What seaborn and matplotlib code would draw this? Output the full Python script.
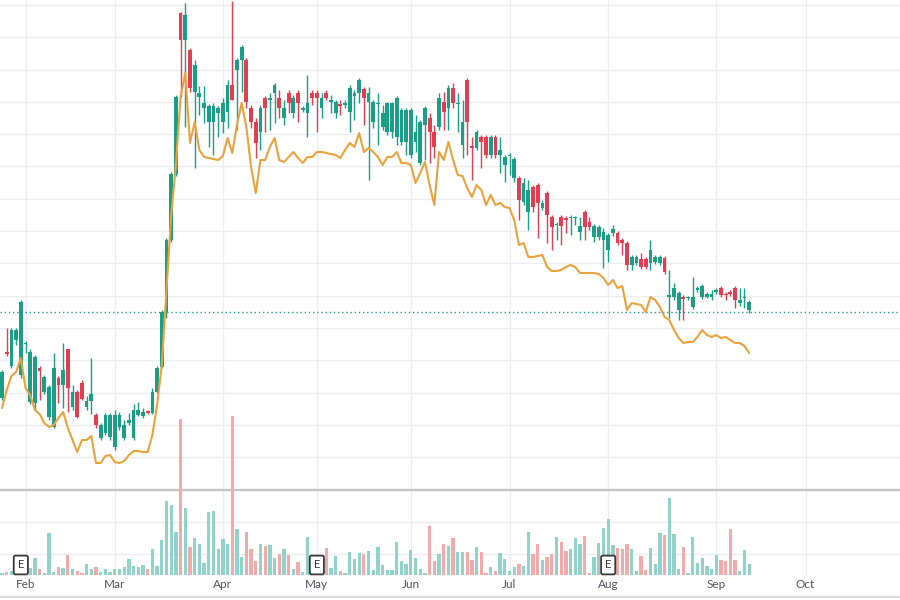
import numpy as np
import matplotlib
matplotlib.use("Agg")
import matplotlib.pyplot as plt
import seaborn as sns

# daily bars (price units are arbitrary, scale not shown)
open_ = [10.2, 14.8, 13.4, 16.0, 12.5, 15.6, 9.8, 9.7, 13.2, 10.8,
         8.3, 7.3, 12.2, 11.5, 15.1, 9.3, 10.8, 11.7, 9.3, 9.9,
         8.5, 6.2, 6.7, 6.3, 5.3, 7.3, 6.2, 7.7, 6.2, 8.5,
         8.4, 8.9, 8.7, 10.8, 13.3, 18.8, 26.0, 32.6, 48.7, 46.0,
         45.0, 40.8, 40.3, 39.2, 37.8, 37.8, 38.7, 37.8, 38.8, 41.5,
         43.0, 44.0, 44.0, 39.2, 37.8, 36.8, 40.2, 40.0, 40.7, 40.2,
         38.2, 40.7, 38.7, 40.7, 39.0, 38.7, 40.7, 40.7, 39.2, 40.7,
         39.8, 38.7, 39.6, 39.5, 38.8, 40.4, 40.7, 41.1, 39.8, 37.8,
         39.6, 37.3, 36.8, 36.8, 36.3, 35.8, 35.8, 34.5, 35.8, 33.7,
         37.5, 38.2, 36.8, 37.3, 39.8, 39.2, 41.2, 39.6, 35.5, 42.0,
         35.4, 35.2, 36.3, 36.3, 34.5, 36.3, 34.5, 33.5, 34.4, 32.2,
         32.2, 29.8, 28.8, 31.3, 31.5, 29.2, 30.7, 28.3, 27.5, 28.3,
         28.2, 28.2, 28.2, 26.8, 28.8, 27.8, 26.3, 26.3, 26.0, 25.0,
         26.7, 26.7, 26.0, 25.7, 23.5, 23.7, 24.1, 24.1, 23.7, 23.8,
         23.7, 24.2, 20.3, 20.3, 19.0, 20.3, 20.2, 19.3, 21.0, 20.3,
         20.3, 20.3, 20.8, 21.2, 20.6, 20.8, 21.2, 19.7, 20.2, 19.0]
close = [12.8, 14.6, 17.0, 17.0, 19.8, 15.7, 14.8, 14.3, 12.9, 12.3,
         11.3, 13.2, 11.5, 13.0, 11.2, 10.8, 8.3, 10.1, 9.9, 10.6,
         7.5, 7.5, 8.5, 8.5, 8.5, 8.5, 7.5, 8.0, 9.0, 9.0,
         8.8, 8.7, 10.8, 13.2, 18.8, 26.0, 32.6, 40.3, 46.0, 48.5,
         41.2, 43.5, 40.7, 39.7, 39.4, 39.4, 39.2, 39.7, 41.5, 40.0,
         44.0, 45.3, 39.8, 37.8, 35.7, 39.2, 39.2, 40.2, 41.5, 39.2,
         39.2, 39.7, 40.2, 39.7, 39.2, 39.7, 40.2, 40.2, 40.2, 40.2,
         40.0, 39.8, 39.4, 39.7, 41.2, 40.7, 42.0, 40.2, 40.7, 39.8,
         39.7, 38.7, 39.7, 39.7, 40.2, 39.0, 39.0, 39.0, 36.8, 37.8,
         39.2, 36.8, 35.3, 40.2, 38.8, 41.2, 39.7, 39.7, 37.8, 37.8,
         35.2, 36.8, 35.8, 34.5, 36.3, 34.5, 35.0, 34.3, 34.5, 34.1,
         30.0, 31.7, 31.0, 29.3, 29.7, 29.7, 28.5, 27.3, 27.6, 27.4,
         28.0, 28.3, 28.3, 27.4, 27.3, 27.3, 27.4, 27.3, 26.8, 26.5,
         27.1, 25.7, 25.7, 23.5, 24.3, 24.3, 23.3, 23.3, 25.0, 24.3,
         24.3, 22.8, 20.5, 21.2, 20.7, 20.1, 20.3, 20.3, 21.2, 21.4,
         20.6, 20.6, 21.0, 20.5, 20.5, 20.6, 20.0, 20.0, 20.3, 19.8]
high = [13.0, 17.2, 17.2, 17.2, 20.0, 15.9, 15.1, 14.5, 13.4, 12.5,
        11.5, 14.7, 12.4, 15.7, 15.1, 11.5, 11.0, 12.0, 10.4, 14.2,
        8.7, 7.7, 8.7, 8.7, 9.0, 8.8, 8.0, 8.7, 9.6, 9.8,
        9.2, 9.0, 11.2, 13.4, 19.0, 26.2, 32.8, 40.5, 48.8, 49.7,
        45.2, 44.0, 41.4, 41.4, 39.6, 39.7, 39.4, 40.2, 42.0, 49.9,
        44.2, 45.5, 44.2, 39.5, 38.2, 39.5, 40.4, 40.7, 41.7, 41.0,
        40.0, 41.0, 40.5, 41.0, 39.4, 42.5, 41.0, 41.0, 40.7, 41.0,
        40.5, 40.0, 40.0, 40.0, 41.5, 41.0, 42.2, 41.3, 41.3, 40.0,
        40.7, 39.5, 39.8, 39.8, 40.4, 39.2, 39.2, 39.2, 38.5, 38.0,
        39.4, 38.7, 37.5, 40.7, 40.8, 41.5, 41.7, 40.7, 40.0, 42.2,
        36.3, 37.0, 36.5, 36.5, 36.5, 36.5, 36.3, 34.5, 34.7, 34.3,
        32.4, 32.2, 32.0, 31.5, 31.7, 30.0, 30.9, 28.5, 27.8, 28.5,
        28.4, 28.5, 28.4, 28.3, 29.0, 28.3, 27.6, 27.5, 27.2, 26.7,
        27.5, 26.9, 26.2, 25.9, 24.5, 24.5, 24.7, 24.3, 26.0, 24.5,
        24.5, 24.4, 23.0, 21.7, 20.9, 20.5, 20.4, 22.3, 21.4, 21.6,
        20.8, 21.0, 21.2, 21.4, 20.8, 21.0, 21.4, 21.2, 21.2, 20.0]
low = [10.0, 14.4, 13.2, 15.5, 12.2, 14.7, 9.6, 9.0, 10.0, 10.6,
       8.0, 7.2, 9.7, 9.2, 8.8, 9.0, 8.2, 10.0, 9.0, 8.6,
       7.2, 6.0, 6.5, 6.0, 5.0, 7.0, 6.0, 7.5, 6.0, 8.4,
       8.2, 8.6, 8.6, 10.7, 13.2, 18.2, 25.8, 32.4, 40.3, 37.3,
       40.8, 33.2, 38.5, 37.7, 35.3, 34.5, 36.3, 36.7, 37.2, 40.0,
       37.0, 40.8, 39.2, 37.2, 34.2, 35.0, 36.8, 37.0, 37.7, 38.2,
       37.5, 38.7, 38.2, 37.8, 38.8, 36.3, 39.5, 36.8, 38.2, 40.0,
       38.7, 38.2, 38.5, 39.2, 36.8, 38.0, 39.7, 37.5, 32.0, 37.2,
       35.5, 37.0, 36.5, 36.2, 35.5, 35.5, 34.5, 34.2, 34.8, 33.5,
       34.0, 33.7, 34.2, 37.0, 37.0, 37.0, 39.2, 36.8, 34.2, 34.5,
       32.0, 35.0, 33.2, 34.2, 34.2, 34.2, 32.7, 31.8, 32.5, 31.8,
       28.0, 29.5, 27.0, 28.8, 26.2, 29.0, 25.7, 25.0, 26.0, 25.5,
       26.7, 26.5, 27.5, 26.0, 26.0, 27.0, 25.8, 26.0, 23.2, 23.8,
       26.4, 25.5, 24.5, 23.0, 23.0, 23.5, 23.1, 23.1, 23.0, 23.6,
       23.5, 22.6, 18.2, 20.0, 18.0, 18.0, 20.0, 19.1, 20.8, 20.1,
       20.2, 20.0, 20.6, 20.3, 20.0, 20.4, 19.2, 19.4, 19.2, 18.7]

# orange comparison line, one value per bar
trend = [9.2, 11.0, 12.4, 12.8, 14.2, 11.2, 10.5, 9.0, 8.6, 7.7,
         7.3, 7.5, 8.2, 8.8, 7.2, 6.0, 4.8, 6.0, 6.0, 6.4,
         3.7, 3.7, 4.4, 4.5, 3.8, 3.7, 3.9, 4.5, 4.9, 4.9,
         4.8, 4.8, 6.5, 9.5, 13.5, 21.0, 28.5, 33.5, 40.3, 42.7,
         35.7, 37.8, 35.0, 34.3, 34.2, 34.1, 34.0, 34.4, 36.2, 34.7,
         37.5, 39.7, 37.3, 33.3, 30.7, 34.0, 34.0, 35.3, 36.2, 34.0,
         33.8, 34.3, 34.8, 34.2, 33.7, 34.3, 34.3, 34.8, 34.8, 34.7,
         34.6, 34.5, 34.2, 35.0, 35.7, 35.3, 36.7, 34.8, 35.2, 34.8,
         34.3, 33.5, 34.3, 34.3, 34.8, 33.7, 33.7, 33.5, 31.7, 32.7,
         33.8, 31.5, 29.5, 34.8, 34.0, 35.8, 34.0, 32.5, 32.4, 31.2,
         30.3, 31.5, 31.0, 29.5, 30.5, 29.5, 29.7, 29.3, 29.2, 28.0,
         25.5, 25.7, 24.3, 24.3, 24.4, 24.5, 23.3, 22.9, 22.9, 23.0,
         23.3, 23.5, 23.3, 22.7, 22.7, 22.7, 22.7, 22.6, 22.2, 21.5,
         22.0, 21.2, 21.4, 19.0, 19.7, 19.6, 19.5, 18.8, 20.3, 20.0,
         19.3, 18.3, 18.0, 17.0, 16.2, 15.7, 15.8, 15.8, 16.3, 17.0,
         16.5, 16.3, 16.5, 16.2, 16.3, 16.0, 15.7, 15.7, 15.4, 14.7]

volume = [2, 3, 4, 4, 5, 4, 7, 17, 6, 2,
          42, 3, 8, 7, 20, 6, 4, 2, 11, 6,
          8, 3, 6, 3, 6, 6, 8, 16, 9, 8,
          10, 6, 26, 9, 35, 74, 70, 43, 156, 67,
          28, 37, 31, 12, 63, 64, 26, 36, 31, 159,
          46, 18, 43, 26, 14, 31, 29, 30, 17, 21,
          26, 20, 6, 13, 3, 38, 3, 3, 4, 27,
          7, 19, 4, 2, 23, 16, 22, 21, 24, 5,
          28, 10, 5, 5, 33, 14, 11, 25, 17, 6,
          2, 49, 14, 21, 31, 29, 37, 23, 23, 23,
          15, 28, 23, 2, 8, 4, 22, 16, 4, 8,
          11, 9, 43, 21, 31, 15, 18, 21, 38, 33,
          24, 26, 37, 31, 39, 2, 18, 32, 47, 56,
          30, 27, 26, 31, 26, 4, 19, 5, 27, 11,
          42, 40, 77, 41, 6, 28, 2, 38, 12, 17,
          9, 6, 20, 15, 14, 46, 15, 4, 25, 11]

months = ["Feb", "Mar", "Apr", "May", "Jun", "Jul", "Aug", "Sep", "Oct"]
month_idx = [5, 24, 47, 67, 87, 108, 129, 152, 171]
earnings_idx = [4, 67, 129]
last_price = 18.8

sns.set_theme(style="white")
plt.rcParams["font.family"] = ["Lato", "DejaVu Sans"]

up_col = "#1a9e86"
dn_col = "#e23d50"
up_vol = "#92d3c9"
dn_vol = "#f1a9a9"

idx = np.arange(len(close))
o = np.array(open_)
c = np.array(close)
up = c >= o
cols = np.where(up, up_col, dn_col)
vcols = np.where(up, up_vol, dn_vol)

fig = plt.figure(figsize=(9, 6), dpi=100)
ax = fig.add_axes([0, 25 / 600, 1, 575 / 600])

ax.set_xlim(-0.43, 191.1)
ax.set_ylim(-7.5, 50)

# grid
ax.set_yticks(np.arange(49.5, -7.4, -3.23))
ax.set_xticks(month_idx)
ax.set_xticklabels(months)
ax.grid(True, color="#ebedf1", lw=1)
ax.set_axisbelow(True)
for s in ax.spines.values():
    s.set_visible(False)
ax.tick_params(axis="y", left=False, labelleft=False)
ax.tick_params(axis="x", length=0, pad=3, labelsize=8.5, labelcolor="#50535e")

# candles
ax.vlines(idx, low, high, colors=cols, lw=1, zorder=2)
body = np.maximum(np.abs(c - o), 0.12)
ax.bar(idx, body, bottom=np.minimum(o, c), width=0.8, color=cols, linewidth=0, zorder=3)

sns.lineplot(x=idx, y=trend, ax=ax, color="#e9a23c", lw=1.5, zorder=4)

ax.axhline(last_price, color="#1f9e8a", lw=1, ls=(0, (1, 2)), zorder=1)
ax.axhline(1.0, color="#c4c4c4", lw=1.6, zorder=1)

# volume overlay
ax2 = ax.twinx()
ax2.set_ylim(0, 575)
ax2.set_axis_off()
ax2.bar(idx, volume, width=0.7, color=vcols, linewidth=0)
for e in earnings_idx:
    ax2.text(e, 10, "E", ha="center", va="center", fontsize=8, color="#333333",
             bbox=dict(boxstyle="round,pad=0.35,rounding_size=0.15", fc="white", ec="#3a3a3a", lw=1.3))

fig.add_artist(plt.Line2D([0, 1], [3 / 600, 3 / 600], transform=fig.transFigure, color="#dcdcdc", lw=1.5))

fig.savefig("out.png", dpi=100)
